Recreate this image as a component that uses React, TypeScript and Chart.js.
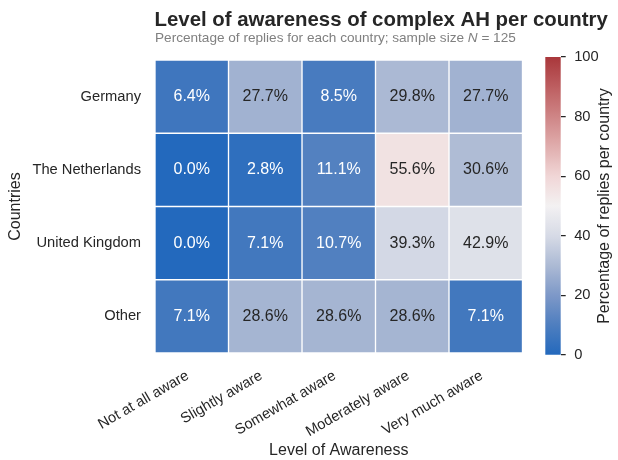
import React, { useEffect, useRef } from 'react';
import { Chart, registerables } from 'chart.js';

Chart.register(...registerables);

const LEVELS = ['Not at all aware', 'Slightly aware', 'Somewhat aware', 'Moderately aware', 'Very much aware'];
const COUNTRIES = ['Germany', 'The Netherlands', 'United Kingdom', 'Other'];
const GERMANY = [6.4, 27.7, 8.5, 29.8, 27.7];
const NETHERLANDS = [0.0, 2.8, 11.1, 55.6, 30.6];
const UNITED_KINGDOM = [0.0, 7.1, 10.7, 39.3, 42.9];
const OTHER = [7.1, 28.6, 28.6, 28.6, 7.1];
const ROWS = [GERMANY, NETHERLANDS, UNITED_KINGDOM, OTHER];
const CBAR_RANGE = [0, 100];
const CBAR_TICKS = [0, 20, 40, 60, 80, 100];

const TITLE = 'Level of awareness of complex AH per country';
const SUBTITLE_A = 'Percentage of replies for each country; sample size ';
const SUBTITLE_N = 'N';
const SUBTITLE_B = ' = 125';
const X_TITLE = 'Level of Awareness';
const Y_TITLE = 'Countries';
const CBAR_TITLE = 'Percentage of replies per country';

const FONT = '"Liberation Sans", Arial, Helvetica, sans-serif';
const DARK = '#262626';

// approximate seaborn "vlag" colormap
const STOPS: [number, number, number, number][] = [
  [0.0, 35, 105, 189],
  [0.1, 78, 126, 191],
  [0.2, 125, 152, 200],
  [0.3, 172, 186, 212],
  [0.4, 214, 218, 230],
  [0.5, 243, 241, 242],
  [0.6, 240, 214, 214],
  [0.7, 224, 173, 173],
  [0.8, 207, 133, 134],
  [0.9, 189, 94, 96],
  [1.0, 169, 55, 59],
];

function cmapRGB(t: number): [number, number, number] {
  const v = Math.max(0, Math.min(1, t));
  for (let i = 1; i < STOPS.length; i++) {
    const a = STOPS[i - 1];
    const b = STOPS[i];
    if (v <= b[0]) {
      const f = (v - a[0]) / (b[0] - a[0]);
      return [a[1] + (b[1] - a[1]) * f, a[2] + (b[2] - a[2]) * f, a[3] + (b[3] - a[3]) * f];
    }
  }
  const l = STOPS[STOPS.length - 1];
  return [l[1], l[2], l[3]];
}
function cmap(t: number): string {
  const [r, g, b] = cmapRGB(t);
  return `rgb(${Math.round(r)},${Math.round(g)},${Math.round(b)})`;
}
function textColor(v: number): string {
  const c = cmapRGB(v / 100).map((x) => {
    const s = x / 255;
    return s <= 0.03928 ? s / 12.92 : Math.pow((s + 0.055) / 1.055, 2.4);
  });
  const lum = 0.2126 * c[0] + 0.7152 * c[1] + 0.0722 * c[2];
  return lum > 0.408 ? DARK : '#ffffff';
}

const cellLabels = {
  id: 'cellLabels',
  afterDatasetsDraw(chart: any) {
    const ctx = chart.ctx;
    ctx.save();
    ctx.font = `16px ${FONT}`;
    ctx.textAlign = 'center';
    ctx.textBaseline = 'middle';
    LEVELS.forEach((_, j) => {
      const meta = chart.getDatasetMeta(j);
      meta.data.forEach((el: any, i: number) => {
        const v = ROWS[i][j];
        const p = el.getCenterPoint();
        ctx.fillStyle = textColor(v);
        ctx.fillText(v.toFixed(1) + '%', p.x, p.y);
      });
    });
    ctx.restore();
  },
};

const titles = {
  id: 'titles',
  afterDraw(chart: any) {
    const ctx = chart.ctx;
    const left = chart.chartArea.left;
    ctx.save();
    ctx.textAlign = 'left';
    ctx.textBaseline = 'alphabetic';
    ctx.fillStyle = DARK;
    ctx.font = `bold 20.4px ${FONT}`;
    ctx.fillText(TITLE, left - 0.5, 26);
    ctx.fillStyle = '#808080';
    ctx.font = `13.6px ${FONT}`;
    let x = left;
    ctx.fillText(SUBTITLE_A, x, 42);
    x += ctx.measureText(SUBTITLE_A).width;
    ctx.font = `italic 13.6px ${FONT}`;
    ctx.fillText(SUBTITLE_N, x, 42);
    x += ctx.measureText(SUBTITLE_N).width;
    ctx.font = `13.6px ${FONT}`;
    ctx.fillText(SUBTITLE_B, x, 42);
    ctx.restore();
  },
};

const cbarTitle = {
  id: 'cbarTitle',
  afterDraw(chart: any) {
    const ctx = chart.ctx;
    const a = chart.chartArea;
    ctx.save();
    ctx.translate(75, (a.top + a.bottom) / 2);
    ctx.rotate(-Math.PI / 2);
    ctx.textAlign = 'center';
    ctx.textBaseline = 'middle';
    ctx.fillStyle = DARK;
    ctx.font = `16px ${FONT}`;
    ctx.fillText(CBAR_TITLE, 0, 0);
    ctx.restore();
  },
};

export default function App() {
  const mainRef = useRef<HTMLCanvasElement>(null);
  const cbRef = useRef<HTMLCanvasElement>(null);

  useEffect(() => {
    Chart.defaults.font.family = FONT;
    Chart.defaults.color = DARK;

    const main = new Chart(mainRef.current as HTMLCanvasElement, {
      type: 'bar',
      data: {
        labels: COUNTRIES,
        datasets: LEVELS.map((lvl, j) => ({
          label: lvl,
          data: ROWS.map(() => [j, j + 1]),
          backgroundColor: ROWS.map((r) => cmap(r[j] / 100)),
          borderColor: '#ffffff',
          borderWidth: 1,
          borderSkipped: false,
          barPercentage: 1,
          categoryPercentage: 1,
          grouped: false,
        })),
      } as any,
      options: {
        indexAxis: 'y',
        responsive: false,
        animation: false,
        events: [],
        layout: { padding: { top: 60, right: 95.5, left: 0, bottom: 0 } },
        plugins: { legend: { display: false }, tooltip: { enabled: false } },
        scales: {
          x: {
            type: 'linear',
            position: 'bottom',
            min: 0,
            max: LEVELS.length,
            grid: { display: false, drawTicks: false },
            border: { display: false },
            afterBuildTicks: (s: any) => {
              s.ticks = LEVELS.map((_, i) => ({ value: i + 0.5 }));
            },
            afterFit: (s: any) => {
              s.height = 107;
            },
            ticks: {
              autoSkip: false,
              minRotation: 30,
              maxRotation: 30,
              padding: 14,
              labelOffset: -4,
              color: DARK,
              font: { size: 14.7 },
              callback: (_v: any, i: number) => LEVELS[i],
            },
            title: { display: true, text: X_TITLE, color: DARK, font: { size: 16 }, padding: { top: 0, bottom: 0 } },
          },
          y: {
            type: 'category',
            grid: { display: false, drawTicks: false },
            border: { display: false },
            afterFit: (s: any) => {
              s.width = 155;
            },
            ticks: { padding: 14, color: DARK, font: { size: 14.7 } },
            title: { display: true, text: Y_TITLE, color: DARK, font: { size: 16 }, padding: { top: 6.4, bottom: 0 } },
          },
        },
      } as any,
      plugins: [cellLabels, titles],
    });

    const cb = new Chart(cbRef.current as HTMLCanvasElement, {
      type: 'bar',
      data: {
        labels: [''],
        datasets: [
          {
            data: [CBAR_RANGE],
            backgroundColor: (c: any) => {
              const chart = c.chart;
              const ys = chart.scales && chart.scales.y;
              if (!chart.chartArea || !ys) return cmap(0.5);
              const g = chart.ctx.createLinearGradient(0, ys.getPixelForValue(CBAR_RANGE[0]), 0, ys.getPixelForValue(CBAR_RANGE[1]));
              for (let k = 0; k <= 50; k++) g.addColorStop(k / 50, cmap(k / 50));
              return g;
            },
            borderWidth: 0,
            barPercentage: 1,
            categoryPercentage: 1,
          },
        ],
      } as any,
      options: {
        responsive: false,
        animation: false,
        events: [],
        layout: { padding: { left: 15.3, top: 57, bottom: 105, right: 0 } },
        plugins: { legend: { display: false }, tooltip: { enabled: false } },
        scales: {
          x: { display: false },
          y: {
            position: 'right',
            min: CBAR_RANGE[0],
            max: CBAR_RANGE[1],
            afterBuildTicks: (s: any) => {
              s.ticks = CBAR_TICKS.map((v) => ({ value: v }));
            },
            afterFit: (s: any) => {
              s.width = 57.3;
            },
            grid: { display: true, drawOnChartArea: false, drawTicks: true, tickLength: 5, color: DARK, lineWidth: 1.25 },
            border: { display: false },
            ticks: { padding: 8.5, color: DARK, font: { size: 14.7 } },
          },
        },
      } as any,
      plugins: [cbarTitle],
    });

    return () => {
      main.destroy();
      cb.destroy();
    };
  }, []);

  return (
    <div style={{ position: 'absolute', left: 0, top: 0, width: 618, height: 460, background: '#ffffff' }}>
      <canvas ref={mainRef} width={618} height={460} style={{ position: 'absolute', left: 0, top: 0 }} />
      <canvas ref={cbRef} width={88} height={460} style={{ position: 'absolute', left: 530, top: 0 }} />
    </div>
  );
}
